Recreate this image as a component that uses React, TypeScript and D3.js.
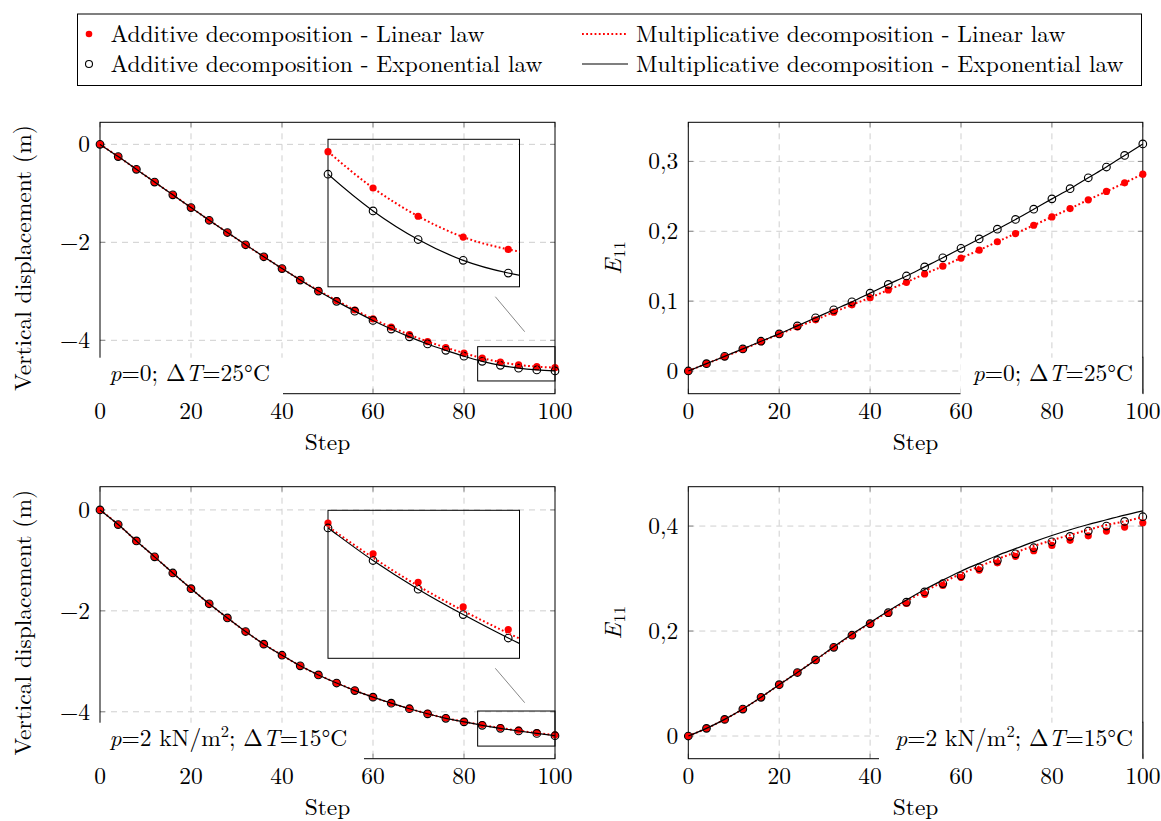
import React from "react";
import * as d3 from "d3";

const steps = [0, 4, 8, 12, 16, 20, 24, 28, 32, 36, 40, 44, 48, 52, 56, 60, 64, 68, 72, 76, 80, 84, 88, 92, 96, 100];
const xTicks = [0, 20, 40, 60, 80, 100];
const dispTicks = [0, -2, -4];
const strainTicksTop = [0, 0.1, 0.2, 0.3];
const strainTicksBottom = [0, 0.2, 0.4];

// p = 0 ; dT = 25 C  -- vertical displacement
const tlAddExp = [0, -0.25, -0.51, -0.77, -1.03, -1.29, -1.55, -1.8, -2.05, -2.295, -2.535, -2.77, -2.995, -3.205, -3.405, -3.595, -3.77, -3.93, -4.075, -4.205, -4.325, -4.429, -4.51, -4.569, -4.605, -4.625];
const tlAddLin = [0, -0.25, -0.51, -0.77, -1.03, -1.29, -1.55, -1.8, -2.05, -2.295, -2.535, -2.765, -2.985, -3.188, -3.381, -3.564, -3.732, -3.886, -4.025, -4.147, -4.261, -4.364, -4.444, -4.503, -4.538, -4.558];
// the multiplicative curves run through the additive markers here
const tlMulLin = tlAddLin;
const tlMulExp = tlAddExp;

// p = 0 ; dT = 25 C  -- E11
const trAddExp = [0, 0.0105, 0.021, 0.0316, 0.0426, 0.0531, 0.0646, 0.0761, 0.0876, 0.099, 0.1115, 0.124, 0.136, 0.149, 0.162, 0.1756, 0.189, 0.203, 0.217, 0.2316, 0.2464, 0.261, 0.2766, 0.292, 0.3086, 0.325];
const trAddLin = [0, 0.0105, 0.0206, 0.031, 0.042, 0.0526, 0.063, 0.0732, 0.0842, 0.0947, 0.105, 0.116, 0.127, 0.139, 0.15, 0.1617, 0.173, 0.185, 0.1967, 0.2086, 0.2206, 0.2325, 0.245, 0.257, 0.2694, 0.2818];
const trMulLin = trAddLin;
const trMulExp = trAddExp;

// p = 2 kN/m2 ; dT = 15 C  -- vertical displacement
const blAddExp = [0, -0.29, -0.615, -0.93, -1.25, -1.56, -1.86, -2.14, -2.41, -2.66, -2.88, -3.09, -3.27, -3.43, -3.58, -3.71, -3.83, -3.94, -4.04, -4.13, -4.2, -4.268, -4.328, -4.381, -4.43, -4.475];
const blAddLin = [0, -0.29, -0.615, -0.93, -1.25, -1.56, -1.86, -2.14, -2.41, -2.66, -2.88, -3.09, -3.269, -3.428, -3.577, -3.706, -3.825, -3.934, -4.033, -4.122, -4.1895, -4.254, -4.3134, -4.365, -4.4124, -4.456];
const blMulLin = [0, -0.29, -0.615, -0.93, -1.25, -1.56, -1.86, -2.14, -2.41, -2.66, -2.88, -3.09, -3.269, -3.428, -3.577, -3.71, -3.829, -3.939, -4.039, -4.128, -4.197, -4.262, -4.321, -4.373, -4.42, -4.464];
const blMulExp = blAddExp;

// p = 2 kN/m2 ; dT = 15 C  -- E11
const brAddExp = [0, 0.0146, 0.0317, 0.0514, 0.0737, 0.0978, 0.121, 0.145, 0.169, 0.192, 0.214, 0.235, 0.255, 0.2745, 0.2905, 0.3053, 0.3206, 0.3346, 0.3472, 0.3587, 0.3701, 0.3804, 0.3905, 0.4, 0.4089, 0.4178];
const brAddLin = [0, 0.0146, 0.0317, 0.0514, 0.0737, 0.0978, 0.121, 0.145, 0.169, 0.192, 0.2135, 0.2336, 0.2527, 0.27, 0.287, 0.3023, 0.3162, 0.33, 0.3423, 0.353, 0.3632, 0.3728, 0.3815, 0.3905, 0.398, 0.4063];
const brMulLin = [0, 0.0146, 0.0317, 0.0514, 0.0737, 0.0978, 0.121, 0.145, 0.169, 0.193, 0.215, 0.237, 0.257, 0.276, 0.293, 0.309, 0.323, 0.337, 0.35, 0.362, 0.373, 0.383, 0.393, 0.402, 0.409, 0.417];
const brMulExp = [0, 0.0146, 0.0317, 0.0514, 0.0737, 0.0978, 0.121, 0.145, 0.17, 0.194, 0.216, 0.238, 0.259, 0.279, 0.297, 0.314, 0.329, 0.344, 0.357, 0.37, 0.382, 0.393, 0.403, 0.412, 0.421, 0.429];

const legendLabels = [
  "Additive decomposition - Linear law",
  "Additive decomposition - Exponential law",
  "Multiplicative decomposition - Linear law",
  "Multiplicative decomposition - Exponential law",
];

const noteTop = [
  { t: "p", i: true }, { t: "=0; Δ" }, { t: "T", i: true }, { t: "=25°C" },
];
const noteBottom = [
  { t: "p", i: true }, { t: "=2 kN/m" }, { t: "2", sup: true }, { t: "; Δ" }, { t: "T", i: true }, { t: "=15°C" },
];

const FONT = "Latin Modern Roman, CMU Serif, Liberation Serif, serif";
const FS = 23.5;
const RED = "#ff0000";
const GRID = "#cfcfcf";

const panels = [
  {
    id: "tl", left: 100, top: 122.3, width: 455, height: 271.4, yDomain: [-5.09, 0.45], yTicks: dispTicks,
    addLin: tlAddLin, addExp: tlAddExp, mulLin: tlMulLin, mulExp: tlMulExp, yLabel: "disp",
    note: noteTop, noteSide: "left", noteX: 109.5, noteBox: [99, 283],
    inset: { x: 328, y: 139.3, w: 191.5, h: 147.5, xDomain: [80, 97], yDomain: [-4.644, -4.226],
      box: [83, 100, -4.83, -4.13], link: [495.3, 296.7, 524.7, 331.7] },
  },
  {
    id: "tr", left: 688.3, top: 122.3, width: 454.5, height: 271.4, yDomain: [-0.0325, 0.356], yTicks: strainTicksTop,
    addLin: trAddLin, addExp: trAddExp, mulLin: trMulLin, mulExp: trMulExp, yLabel: "e11",
    note: noteTop, noteSide: "right", noteX: 1133, noteBox: [960.5, 1142.8],
  },
  {
    id: "bl", left: 100, top: 486.7, width: 455, height: 272, yDomain: [-4.93, 0.46], yTicks: dispTicks,
    addLin: blAddLin, addExp: blAddExp, mulLin: blMulLin, mulExp: blMulExp, yLabel: "disp",
    note: noteBottom, noteSide: "left", noteX: 109.5, noteBox: [99, 364],
    inset: { x: 328, y: 510.3, w: 191.5, h: 148, xDomain: [80, 97], yDomain: [-4.4724, -4.163],
      box: [83, 100, -4.68, -3.985], link: [495.3, 668.3, 524.7, 702.7] },
  },
  {
    id: "br", left: 688.3, top: 486.7, width: 454.5, height: 272, yDomain: [-0.0432, 0.475], yTicks: strainTicksBottom,
    addLin: brAddLin, addExp: brAddExp, mulLin: brMulLin, mulExp: brMulExp, yLabel: "e11",
    note: noteBottom, noteSide: "right", noteX: 1133, noteBox: [879, 1142.8],
  },
];

const fmtY = (d: number) => (d === 0 ? "0" : String(d).replace(".", ",").replace("-", "\u2212"));

function Series({ x, y, p, keep, clipId }: any) {
  const pts = (vals: number[]) => steps.map((s, i) => [s, vals[i]]).filter((d) => keep(d[0]));
  const line = d3.line<number>()
    .x((d, i) => x(steps[i]))
    .y((d) => y(d))
    .curve(d3.curveMonotoneX);
  return (
    <g>
      {pts(p.addLin).map((d, i) => (
        <circle key={"r" + i} cx={x(d[0])} cy={y(d[1])} r={3.6} fill={RED} />
      ))}
      {pts(p.addExp).map((d, i) => (
        <circle key={"k" + i} cx={x(d[0])} cy={y(d[1])} r={3.8} fill="none" stroke="#000" strokeWidth={1.15} />
      ))}
      <g clipPath={clipId ? `url(#${clipId})` : undefined}>
        <path d={line(p.mulLin) || ""} fill="none" stroke={RED} strokeWidth={2} strokeDasharray="1.8 2.4" />
        <path d={line(p.mulExp) || ""} fill="none" stroke="#000" strokeWidth={1.2} />
      </g>
    </g>
  );
}

function Note({ p, bottom }: any) {
  let raised = false;
  const spans = p.note.map((seg: any, i: number) => {
    let dy: number | undefined;
    let size: number | undefined;
    if (seg.sup) {
      dy = -9;
      size = 16.5;
      raised = true;
    } else if (raised) {
      dy = 9;
      raised = false;
    }
    return (
      <tspan key={i} dy={dy} fontSize={size} fontStyle={seg.i ? "italic" : undefined}>{seg.t}</tspan>
    );
  });
  return (
    <text x={p.noteX} y={bottom - 13} textAnchor={p.noteSide === "right" ? "end" : "start"}
      fontFamily={FONT} fontSize={FS}>{spans}</text>
  );
}

function Panel({ p }: any) {
  const right = p.left + p.width;
  const bottom = p.top + p.height;
  const x = d3.scaleLinear().domain([0, 100]).range([p.left, right]);
  const y = d3.scaleLinear().domain(p.yDomain).range([bottom, p.top]);
  const cy = (p.top + bottom) / 2;
  const s = p.inset;
  let inset = null;
  if (s) {
    const ix = d3.scaleLinear().domain(s.xDomain).range([s.x, s.x + s.w]);
    const iy = d3.scaleLinear().domain(s.yDomain).range([s.y + s.h, s.y]);
    const clipId = `clip-${p.id}`;
    const [bx0, bx1, by0, by1] = s.box;
    inset = (
      <g>
        <clipPath id={clipId}><rect x={s.x} y={s.y} width={s.w} height={s.h} /></clipPath>
        <rect x={s.x} y={s.y} width={s.w} height={s.h} fill="none" stroke="#000" strokeWidth={1} />
        <Series x={ix} y={iy} p={p} clipId={clipId}
          keep={(st: number) => st >= s.xDomain[0] && st <= s.xDomain[1]} />
        <rect x={x(bx0)} y={y(by1)} width={x(bx1) - x(bx0)} height={y(by0) - y(by1)}
          fill="none" stroke="#000" strokeWidth={1} />
        <line x1={s.link[0]} y1={s.link[1]} x2={s.link[2]} y2={s.link[3]} stroke="#888" strokeWidth={1} />
      </g>
    );
  }

  return (
    <g>
      {/* dashed grid */}
      {xTicks.slice(1, -1).map((d) => (
        <line key={"gx" + d} x1={x(d)} x2={x(d)} y1={p.top} y2={bottom}
          stroke={GRID} strokeDasharray="6 5" />
      ))}
      {p.yTicks.map((d: number) => (
        <line key={"gy" + d} x1={p.left} x2={right} y1={y(d)} y2={y(d)}
          stroke={GRID} strokeDasharray="6 5" />
      ))}
      {/* inner ticks */}
      <g stroke="#888">
        {xTicks.map((d) => (
          <g key={"tx" + d}>
            <line x1={x(d)} x2={x(d)} y1={bottom} y2={bottom - 5} />
            <line x1={x(d)} x2={x(d)} y1={p.top} y2={p.top + 5} />
          </g>
        ))}
        {p.yTicks.map((d: number) => (
          <g key={"ty" + d}>
            <line x1={p.left} x2={p.left + 5} y1={y(d)} y2={y(d)} />
            <line x1={right} x2={right - 5} y1={y(d)} y2={y(d)} />
          </g>
        ))}
      </g>
      {/* tick labels */}
      <g fontFamily={FONT} fontSize={FS}>
        {xTicks.map((d) => (
          <text key={"lx" + d} x={x(d)} y={bottom + 25.3} textAnchor="middle">{d}</text>
        ))}
        {p.yTicks.map((d: number) => (
          <text key={"ly" + d} x={p.left - 10} y={y(d)} dy="0.33em" textAnchor="end">{fmtY(d)}</text>
        ))}
      </g>
      <rect x={p.left} y={p.top} width={p.width} height={p.height} fill="none" stroke="#000" strokeWidth={1} />

      <Series x={x} y={y} p={p} keep={() => true} />

      <text x={(p.left + right) / 2} y={bottom + 56.5} textAnchor="middle" fontFamily={FONT} fontSize={FS}>Step</text>
      {p.yLabel === "disp" ? (
        <text transform={`translate(31,${cy}) rotate(-90)`} textAnchor="middle" fontFamily={FONT} fontSize={FS}>
          Vertical displacement (m)
        </text>
      ) : (
        <text transform={`translate(621,${cy}) rotate(-90)`} textAnchor="middle" fontFamily={FONT} fontSize={FS}>
          <tspan fontStyle="italic">E</tspan>
          <tspan fontSize={16.5} dy={4} dx={1}>11</tspan>
        </text>
      )}

      {inset}

      {/* case annotation on white box */}
      <rect x={p.noteBox[0]} y={bottom - 36} width={p.noteBox[1] - p.noteBox[0]} height={37.5} fill="#fff" />
      {p.noteSide === "right" && (
        <line x1={right} x2={right} y1={bottom - 37} y2={bottom} stroke="#000" strokeWidth={1} />
      )}
      <Note p={p} bottom={bottom} />
    </g>
  );
}

function Legend() {
  const rows = [34, 64];
  return (
    <g>
      <rect x={77.5} y={14} width={1064} height={71.5} fill="#fff" stroke="#000" strokeWidth={1} />
      <circle cx={89} cy={rows[0]} r={3.3} fill={RED} />
      <circle cx={89} cy={rows[1]} r={3.5} fill="none" stroke="#000" strokeWidth={1.1} />
      <line x1={582} x2={628} y1={rows[0]} y2={rows[0]} stroke={RED} strokeWidth={2} strokeDasharray="1.8 2.4" />
      <line x1={582} x2={628} y1={rows[1]} y2={rows[1]} stroke="#000" strokeWidth={1.2} />
      {legendLabels.map((lab, i) => (
        <text key={lab} x={i < 2 ? 110.5 : 636} y={rows[i % 2] + 7.5} fontFamily={FONT} fontSize={FS}>{lab}</text>
      ))}
    </g>
  );
}

export default function App() {
  return (
    <svg width={1161} height={821} style={{ position: "absolute", left: 0, top: 0, background: "#fff" }}>
      <Legend />
      {panels.map((p) => <Panel key={p.id} p={p} />)}
    </svg>
  );
}
